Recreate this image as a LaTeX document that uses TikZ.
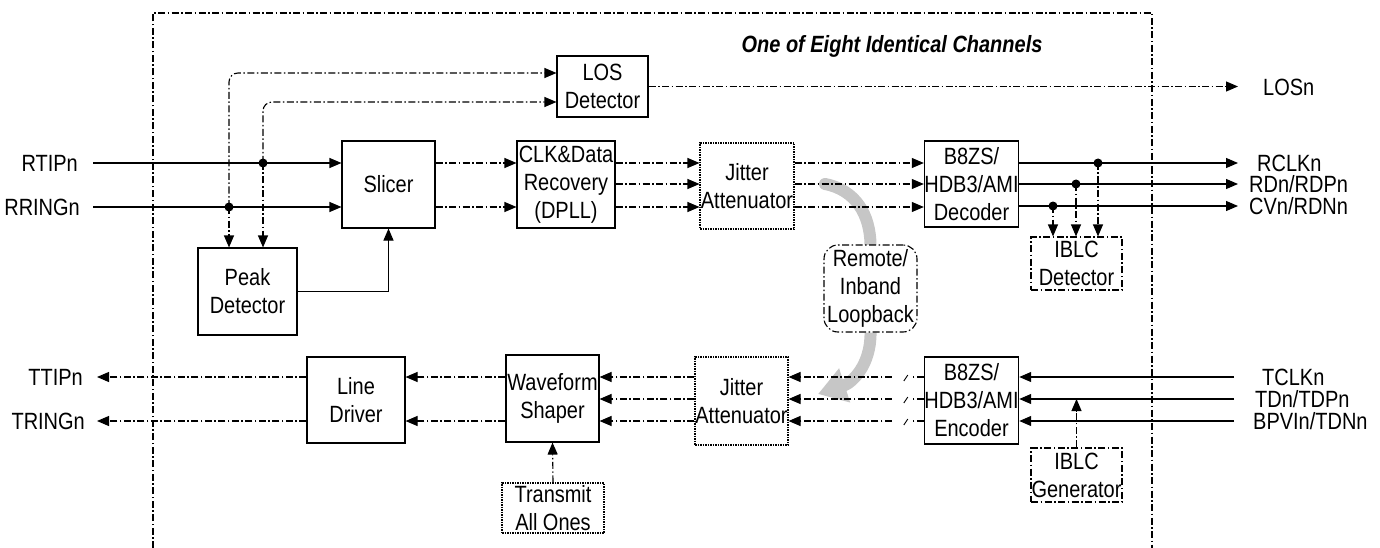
\documentclass[tikz,border=0pt]{standalone}
\usepackage{fontspec}
\setmainfont{Liberation Sans}[FakeStretch=0.85]
\usetikzlibrary{arrows.meta,backgrounds}

\begin{document}
\begin{tikzpicture}[x=1pt,y=-1pt,
  font=\fontsize{23.5}{28}\selectfont,
  >={Triangle[length=12pt,width=10pt]},
  sig/.style={line width=1.1pt},
  dd/.style={line width=1.1pt,dash pattern=on 7pt off 2.5pt on 1.5pt off 2.5pt},
  blk/.style={draw,line width=1.1pt,fill=white,align=center,inner sep=0pt},
  dotblk/.style={blk,dash pattern=on 1.5pt off 1pt},
  ddblk/.style={blk,dash pattern=on 7pt off 2.5pt on 1.5pt off 2.5pt},
  lbl/.style={inner sep=0pt,text height=16.8pt,text depth=0pt}]
\useasboundingbox (0,0) rectangle (1380,548);
\draw[dd] (153,548) -- (153,13) -- (1152,13) -- (1152,548);
\node[font=\fontsize{23.5}{28}\selectfont\bfseries\itshape] (title) at (892,46) {One of Eight Identical Channels};

\node[blk,minimum width=91,minimum height=61] (los) at (602.5,86.5) {LOS\\Detector};
\node[blk,minimum width=93,minimum height=87] (slicer) at (388.5,184.5) {Slicer};
\node[blk,minimum width=98,minimum height=87] (cdr) at (566,184.5) {CLK\&Data\\Recovery\\(DPLL)};
\node[dotblk,minimum width=94,minimum height=86] (jarx) at (747,186) {Jitter\\Attenuator};
\node[blk,minimum width=93,minimum height=86] (dec) at (971.5,184) {B8ZS/\\HDB3/AMI\\Decoder};
\node[ddblk,minimum width=91,minimum height=53] (iblcdet) at (1076.5,263.5) {IBLC\\Detector};
\node[blk,minimum width=99,minimum height=87] (peak) at (247.5,291.5) {Peak\\Detector};
\node[ddblk,rounded corners=14pt,minimum width=93,minimum height=87] (rlb) at (870.5,288.5) {Remote/\\Inband\\Loopback};
\node[blk,minimum width=98,minimum height=86] (drv) at (356,400) {Line\\Driver};
\node[blk,minimum width=93,minimum height=87] (wave) at (552.5,398.5) {Waveform\\Shaper};
\node[dotblk,minimum width=93,minimum height=88] (jatx) at (741.5,401) {Jitter\\Attenuator};
\node[blk,minimum width=93,minimum height=87] (enc) at (971.5,400.5) {B8ZS/\\HDB3/AMI\\Encoder};
\node[ddblk,minimum width=91,minimum height=54] (iblcgen) at (1076.5,475) {IBLC\\Generator};
\node[dotblk,minimum width=102,minimum height=50] (allones) at (553,508) {Transmit\\All Ones};

\node[lbl,anchor=east] (rtip) at (78,163) {RTIPn};
\node[lbl,anchor=east] (rring) at (80,207) {RRINGn};
\node[lbl,anchor=west] (losn) at (1263,87) {LOSn};
\node[lbl,anchor=west] (rclk) at (1257,163) {RCLKn};
\node[lbl,anchor=west] (rdp) at (1249,184) {RDn/RDPn};
\node[lbl,anchor=west] (rdn) at (1249,206) {CVn/RDNn};
\node[lbl,anchor=east] (ttip) at (83,377) {TTIPn};
\node[lbl,anchor=east] (tring) at (85,421) {TRINGn};
\node[lbl,anchor=west] (tclk) at (1262,377) {TCLKn};
\node[lbl,anchor=west] (tdp) at (1255,399) {TDn/TDPn};
\node[lbl,anchor=west] (tdn) at (1253,421) {BPVIn/TDNn};

\coordinate (r1) at (0,163);
\coordinate (r2) at (0,184);
\coordinate (r3) at (0,207);
\coordinate (l1) at (0,73);
\coordinate (l2) at (0,102);
\coordinate (t1) at (0,377);
\coordinate (t2) at (0,399);
\coordinate (t3) at (0,421);
\coordinate (jt) at (263,163);
\coordinate (jr) at (229,207);
\coordinate (d1) at (1098,163);
\coordinate (d2) at (1076,184);
\coordinate (d3) at (1053,206);
\coordinate (oend) at (1238,0);
\coordinate (iend) at (1234,0);
\coordinate (lend) at (97,0);

\draw[sig,->] ([xshift=15pt]rtip.east) -- (slicer.west |- rtip);
\draw[sig,->] ([xshift=13pt]rring.east) -- (slicer.west |- rring);
\draw[dd,->,rounded corners=9pt] (jr) -- (jr |- l1) -- (los.west |- l1);
\draw[dd,->,rounded corners=9pt] (jt) -- (jt |- l2) -- (los.west |- l2);
\draw[dd,->] (jr) -- (jr |- peak.north);
\draw[dd,->] (jt) -- (jt |- peak.north);
\fill (jr) circle (4.5);
\fill (jt) circle (4.5);
\draw[sig,->] (peak.east) -| (slicer.south);
\draw[dd,->] (slicer.east |- r1) -- (cdr.west |- r1);
\draw[dd,->] (slicer.east |- r3) -- (cdr.west |- r3);
\foreach \r in {r1,r2,r3} {
  \draw[dd,->] (cdr.east |- \r) -- (jarx.west |- \r);
  \draw[dd,->] (jarx.east |- \r) -- (dec.west |- \r);
}
\draw[dd,->] (los.east) -- (oend |- los.east);
\draw[sig,->] (dec.east |- rclk) -- (oend |- rclk);
\draw[sig,->] (dec.east |- rdp) -- (oend |- rdp);
\draw[sig,->] (dec.east |- rdn) -- (oend |- rdn);
\foreach \d in {d1,d2,d3} {
  \draw[dd,->] (\d) -- (\d |- iblcdet.north);
  \fill (\d) circle (4.5);
}

\draw[sig,->] (iend |- tclk) -- (enc.east |- tclk);
\draw[sig,->] (iend |- tdp) -- (enc.east |- tdp);
\draw[sig,->] (iend |- tdn) -- (enc.east |- tdn);
\draw[dd,->] (iblcgen.north) -- (iblcgen.north |- tdp);
\foreach \r in {t1,t2,t3} {
  \draw[dd] (enc.west |- \r) -- ++(-12,0);
  \draw[line width=0.9pt] ([xshift=-20pt]enc.west |- \r) ++(0,4) -- ++(4,-6);
  \draw[dd,->] ([xshift=-32pt]enc.west |- \r) -- (jatx.east |- \r);
  \draw[dd,->] (jatx.west |- \r) -- (wave.east |- \r);
}
\draw[dd,->] (wave.west |- t1) -- (drv.east |- t1);
\draw[dd,->] (wave.west |- t3) -- (drv.east |- t3);
\draw[dd,->] (drv.west |- ttip) -- (lend |- ttip);
\draw[dd,->] (drv.west |- tring) -- (lend |- tring);
\draw[dd,->] (allones.north) -- (wave.south);

\begin{pgfonlayer}{background}
\draw[gray!45,line width=12pt,line cap=round] (825,184) .. controls (856,190) and (870,215) .. (rlb.north);
\draw[gray!45,line width=12pt,-{Triangle[length=28pt,width=34pt]}] (rlb.south) .. controls (871,365) and (852,383) .. (818,394);
\end{pgfonlayer}
\end{tikzpicture}
\end{document}
